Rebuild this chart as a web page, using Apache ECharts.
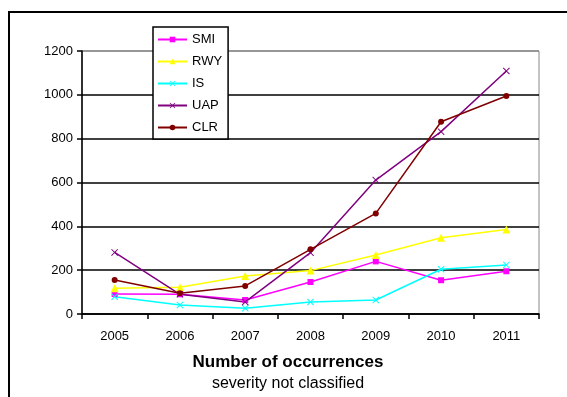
<!DOCTYPE html>
<html>
<head>
<meta charset="utf-8">
<script src="https://cdn.jsdelivr.net/npm/echarts@6/dist/echarts.min.js"></script>
<style>
  html, body { margin: 0; padding: 0; background: #fff; }
  #chart { width: 567px; height: 397px; }
</style>
</head>
<body>
<div id="chart"></div>
<script>
const years = ['2005', '2006', '2007', '2008', '2009', '2010', '2011']
const smi = [91, 90, 64, 146, 240, 154, 195]
const rwy = [117, 122, 173, 198, 269, 348, 386]
const is = [79, 41, 26, 55, 64, 204, 224]
const uap = [281, 90, 55, 280, 611, 832, 1109]
const clr = [155, 95, 128, 295, 459, 877, 995]

const cross = 'path://M0,1L1,0L5,4L9,0L10,1L6,5L10,9L9,10L5,6L1,10L0,9L4,5Z'
const font = 'Liberation Sans, Arial, sans-serif'

const seriesDefs = [
  { name: 'SMI', data: smi, color: '#ff00ff', symbol: 'rect', size: 6 },
  { name: 'RWY', data: rwy, color: '#ffff00', symbol: 'triangle', size: 8 },
  { name: 'IS', data: is, color: '#00ffff', symbol: cross, size: 7 },
  { name: 'UAP', data: uap, color: '#800080', symbol: cross, size: 7 },
  { name: 'CLR', data: clr, color: '#800000', symbol: 'circle', size: 6 },
]

const chart = echarts.init(document.getElementById('chart'))
chart.setOption({
  animation: false,
  textStyle: { fontFamily: font },
  graphic: [{
    type: 'rect',
    shape: { x: 9, y: 12, width: 620, height: 420 },
    style: { fill: 'none', stroke: '#000', lineWidth: 2 },
    z: 0,
  }],
  title: {
    text: 'Number of occurrences',
    subtext: 'severity not classified',
    left: 288,
    top: 354,
    textAlign: 'center',
    itemGap: 5,
    padding: 0,
    textStyle: { fontFamily: font, fontSize: 17, fontWeight: 'bold', color: '#000' },
    subtextStyle: { fontFamily: font, fontSize: 16, color: '#000' },
  },
  legend: {
    orient: 'vertical',
    left: 153,
    top: 27,
    backgroundColor: '#fff',
    borderColor: '#000',
    borderWidth: 1.5,
    padding: [5, 6, 4, 4],
    itemWidth: 29,
    itemHeight: 7,
    itemGap: 7,
    textStyle: { fontFamily: font, fontSize: 13, color: '#000', lineHeight: 15 },
    z: 10,
    data: seriesDefs.map(s => s.name),
  },
  grid: {
    left: 82, right: 28, top: 51, bottom: 83,
    show: true, borderColor: '#888', borderWidth: 1,
  },
  xAxis: {
    type: 'category',
    data: years,
    boundaryGap: true,
    axisLine: { lineStyle: { color: '#000', width: 1.5 } },
    axisTick: { show: true, inside: false, length: 5, interval: 0, lineStyle: { color: '#000', width: 1.5 } },
    axisLabel: { color: '#000', fontSize: 13, margin: 16, fontFamily: font },
  },
  yAxis: {
    type: 'value',
    min: 0, max: 1200, interval: 200,
    axisLine: { show: true, lineStyle: { color: '#000', width: 1.5 } },
    axisTick: { show: true, length: 5, lineStyle: { color: '#000', width: 1.5 } },
    axisLabel: { color: '#000', fontSize: 13, margin: 9, fontFamily: font, formatter: v => String(v) },
    splitLine: { lineStyle: { color: ['#000', '#000', '#000', '#000', '#000', '#000', '#888'], width: 1.5 } },
  },
  series: seriesDefs.map(s => ({
    name: s.name,
    type: 'line',
    data: s.data,
    symbol: s.symbol,
    symbolSize: s.size,
    showAllSymbol: true,
    lineStyle: { color: s.color, width: 1.5 },
    itemStyle: { color: s.color },
  })),
})
</script>
</body>
</html>
